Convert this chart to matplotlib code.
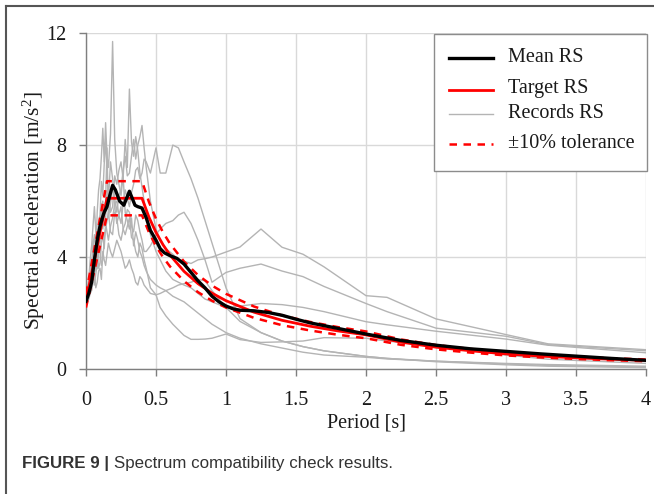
import matplotlib
matplotlib.use("Agg")
import matplotlib.pyplot as plt
from matplotlib.lines import Line2D
from matplotlib.patches import Rectangle

plt.rcParams['font.family'] = ['Liberation Serif', 'DejaVu Serif']
plt.rcParams['mathtext.fontset'] = 'custom'
plt.rcParams['mathtext.rm'] = 'Liberation Serif'
plt.rcParams['mathtext.it'] = 'Liberation Serif:italic'

# ---- data ----
# target spectrum
t_target = [0, 0.15, 0.40, 0.45, 0.50, 0.55, 0.60, 0.70, 0.80, 0.90, 1.00, 1.20,
            1.40, 1.60, 1.80, 2.00, 2.25, 2.50, 2.75, 3.00, 3.25, 3.50, 3.75, 4.00]
sa_target = [2.44, 6.1, 6.1, 5.42, 4.88, 4.44, 4.07, 3.49, 3.05, 2.71, 2.44, 2.03,
             1.74, 1.53, 1.36, 1.22, 0.96, 0.78, 0.65, 0.54, 0.46, 0.40, 0.35, 0.31]

# mean of the records
t_mean = [0, 0.02, 0.04, 0.06, 0.08, 0.10, 0.12, 0.13, 0.15, 0.17, 0.19, 0.21, 0.24,
          0.27, 0.29, 0.31, 0.33, 0.35, 0.37, 0.40, 0.43, 0.46, 0.50, 0.53, 0.56,
          0.60, 0.65, 0.70, 0.75, 0.80, 0.85, 0.90, 0.95, 1.00, 1.05, 1.10, 1.20,
          1.30, 1.40, 1.50, 1.60, 1.80, 2.00, 2.25, 2.50, 2.75, 3.00, 3.25, 3.50,
          3.75, 4.00]
sa_mean = [2.42, 2.7, 3.1, 3.9, 4.6, 5.1, 5.45, 5.6, 5.8, 6.2, 6.56, 6.4, 6.0,
           5.85, 6.1, 6.35, 6.1, 5.85, 5.8, 5.75, 5.4, 4.95, 4.6, 4.3, 4.15,
           4.05, 3.95, 3.75, 3.45, 3.15, 2.9, 2.6, 2.4, 2.25, 2.15, 2.1, 2.08,
           2.02, 1.92, 1.78, 1.65, 1.45, 1.25, 1.02, 0.85, 0.72, 0.63, 0.54, 0.46,
           0.38, 0.31]

# individual records, all on the same period grid
t_rec = [0, 0.02, 0.03, 0.04, 0.05, 0.06, 0.07, 0.08, 0.09, 0.10, 0.11, 0.12, 0.13,
         0.14, 0.15, 0.16, 0.175, 0.19, 0.205, 0.22, 0.235, 0.25, 0.265, 0.28,
         0.295, 0.31, 0.325, 0.34, 0.355, 0.37, 0.385, 0.40, 0.415, 0.43, 0.46,
         0.50, 0.53, 0.57, 0.62, 0.66, 0.70, 0.75, 0.80, 0.85, 0.90, 1.00, 1.10,
         1.25, 1.40, 1.55, 1.70, 2.00, 2.15, 2.50, 3.00, 3.30, 4.00]
rec1 = [2.5, 2.8, 3.6, 3.1, 4.4, 4.8, 4.1, 5.6, 6.4, 6.8, 7.6, 8.6, 7.4, 8.8, 7.6,
        7.2, 8.4, 11.7, 8.2, 7.0, 6.6, 6.2, 6.9, 5.6, 5.3, 5.0, 5.4, 4.4, 4.9, 4.6,
        4.2, 4.0, 3.7, 3.5, 3.2, 3.0, 2.9, 2.8, 2.6, 2.5, 2.4, 2.2, 2.0, 1.8, 1.6,
        1.3, 1.1, 0.9, 0.75, 0.6, 0.5, 0.42, 0.36, 0.28, 0.2, 0.16, 0.1]
rec2 = [2.4, 2.8, 3.5, 3.9, 3.2, 3.4, 4.1, 4.6, 4.0, 5.2, 5.8, 6.0, 5.1, 5.4, 6.3,
        6.4, 5.6, 5.8, 6.9, 6.6, 7.1, 7.4, 6.8, 8.2, 7.2, 10.0, 8.1, 7.6, 8.3, 7.8,
        7.0, 6.5, 6.0, 5.6, 4.8, 4.2, 3.9, 3.5, 3.2, 3.1, 3.0, 2.9, 2.7, 2.5, 2.4,
        2.2, 2.25, 2.34, 2.3, 2.2, 2.05, 1.69, 1.58, 1.35, 1.07, 0.85, 0.58]
rec3 = [2.6, 3.2, 3.9, 4.4, 5.1, 5.8, 4.9, 4.6, 5.3, 5.5, 6.7, 6.2, 7.3, 8.2, 7.1,
        6.0, 7.4, 6.8, 6.1, 5.6, 6.2, 6.4, 7.1, 7.6, 6.9, 7.0, 7.6, 8.2, 7.5, 8.0,
        8.3, 8.7, 7.9, 7.2, 6.0, 5.0, 4.6, 4.3, 4.1, 3.9, 3.85, 3.77, 3.9, 3.94,
        4.0, 4.18, 4.36, 5.0, 4.35, 4.1, 3.65, 2.62, 2.56, 1.79, 1.23, 0.9, 0.69]
rec4 = [2.3, 2.6, 2.9, 3.0, 3.4, 3.5, 3.9, 4.2, 3.6, 3.8, 4.5, 4.8, 4.3, 5.2, 4.9,
        4.6, 5.1, 5.4, 5.9, 6.0, 5.5, 5.2, 5.9, 6.4, 6.1, 5.8, 6.3, 6.6, 7.1, 7.2,
        6.8, 7.0, 7.5, 7.4, 7.0, 7.9, 7.0, 7.0, 8.0, 7.9, 7.4, 6.8, 6.1, 5.3, 4.5,
        2.9, 1.8, 1.3, 1.0, 0.8, 0.65, 0.45, 0.38, 0.28, 0.18, 0.13, 0.07]
rec5 = [2.4, 2.7, 2.9, 3.2, 3.6, 3.0, 3.4, 3.8, 4.3, 4.4, 3.7, 3.9, 4.6, 5.0, 5.3,
        5.6, 4.9, 4.8, 5.6, 5.4, 4.8, 4.6, 5.0, 5.2, 5.7, 5.6, 5.1, 4.9, 5.5, 5.3,
        4.9, 4.6, 4.2, 4.2, 4.4, 4.8, 5.0, 5.2, 5.3, 5.5, 5.6, 5.2, 4.6, 3.9, 3.1,
        3.45, 3.6, 3.75, 3.5, 3.3, 2.95, 2.34, 2.05, 1.46, 1.17, 0.87, 0.65]
rec6 = [2.3, 2.5, 2.7, 2.8, 3.1, 3.4, 2.9, 3.1, 3.5, 3.6, 3.2, 4.2, 3.9, 3.7, 4.1,
        4.5, 4.2, 4.0, 4.3, 4.6, 4.4, 4.2, 3.9, 3.6, 3.7, 3.9, 3.6, 3.4, 3.1, 3.0,
        3.3, 3.2, 3.0, 2.9, 2.7, 2.65, 2.2, 1.9, 1.6, 1.4, 1.2, 1.06, 1.06, 1.07,
        1.1, 1.25, 1.05, 0.95, 0.97, 1.0, 1.12, 1.1, 1.0, 0.82, 0.5, 0.35, 0.2]
rec7 = [2.4, 2.7, 3.1, 3.4, 4.6, 4.0, 3.5, 3.6, 4.9, 4.4, 5.9, 5.0, 5.6, 6.0, 7.9,
        5.4, 5.9, 6.6, 5.8, 5.2, 5.5, 5.8, 5.0, 4.8, 5.1, 5.4, 4.7, 4.6, 4.2, 4.0,
        4.5, 4.3, 3.9, 3.6, 2.9, 2.65, 2.7, 2.8, 2.9, 3.0, 3.05, 3.1, 3.2, 3.15,
        2.8, 2.2, 1.7, 1.3, 1.0, 0.8, 0.65, 0.45, 0.38, 0.26, 0.15, 0.1, 0.05]
records = [rec1, rec2, rec3, rec4, rec5, rec6, rec7]

x_ticks = [0, 0.5, 1, 1.5, 2, 2.5, 3, 3.5, 4]
x_labels = ['0', '0.5', '1', '1.5', '2', '2.5', '3', '3.5', '4']
y_ticks = [0, 4, 8, 12]
legend_labels = ['Mean RS', 'Target RS', 'Records RS', '\u00b110% tolerance']

upper = [v * 1.1 for v in sa_target]
lower = [v * 0.9 for v in sa_target]

W, H = 654, 494
fs = 14.5
dash = (0, (3.0, 2.6))
text_col = '#1a1a1a'


def px(x, y):
    # pixel position (from top-left) -> figure fraction
    return x / W, 1 - y / H


fig = plt.figure(figsize=(W / 100, H / 100), dpi=100)
ax = fig.add_axes([0.1315, 0.253, 0.8563, 0.680])

for r in records:
    ax.plot(t_rec, r, color='#b4b4b4', lw=1.0, zorder=2)
ax.plot(t_target, upper, color='red', lw=1.8, ls=dash, zorder=3)
ax.plot(t_target, lower, color='red', lw=1.8, ls=dash, zorder=3)
ax.plot(t_target, sa_target, color='red', lw=2.0, zorder=4)
ax.plot(t_mean, sa_mean, color='black', lw=2.4, zorder=5)

ax.set_xlim(0, 4)
ax.set_ylim(0, 12)
ax.set_xticks(x_ticks)
ax.set_xticklabels(x_labels)
ax.set_yticks(y_ticks)
ax.grid(True, color='#d9d9d9', lw=1.0, zorder=0)
ax.set_axisbelow(True)
for s in ['top', 'right']:
    ax.spines[s].set_visible(False)
for s in ['left', 'bottom']:
    ax.spines[s].set_color('#7f7f7f')
    ax.spines[s].set_linewidth(1.0)
ax.tick_params(axis='both', direction='out', length=5, width=1.0,
               color='#7f7f7f', labelsize=fs, labelcolor=text_col)
ax.tick_params(axis='x', pad=11)
ax.tick_params(axis='y', pad=9)
ax.set_xlabel('Period [s]', fontsize=fs, color=text_col, labelpad=2)
ax.set_ylabel('Spectral acceleration [m/s$^2$]', fontsize=15.5, color=text_col)
ax.yaxis.set_label_coords(-0.070, 0.473)

# legend box drawn by hand to keep Excel's uneven row spacing
fig.add_artist(Rectangle(px(434, 171), 213 / W, 137 / H, transform=fig.transFigure,
                         facecolor='white', edgecolor='#8c8c8c', lw=1.0,
                         zorder=10))
legend_styles = [dict(color='black', lw=2.4), dict(color='red', lw=2.0),
                 dict(color='#b4b4b4', lw=1.0), dict(color='red', lw=1.8, ls=dash)]
legend_rows = [57, 89, 113, 143]
for lab, st, yy in zip(legend_labels, legend_styles, legend_rows):
    x0, y0 = px(449, yy + 1)
    x1, _ = px(493, yy + 1)
    fig.add_artist(Line2D([x0, x1], [y0, y0], transform=fig.transFigure,
                          zorder=11, **st))
    tx, ty = px(508, yy)
    fig.text(tx, ty, lab, fontsize=fs, color=text_col, va='center', ha='left',
             zorder=11)

# outer panel frame (top and left edges)
fig.add_artist(Line2D([6 / W, 1.0], [1 - 6 / H, 1 - 6 / H],
                      color='#555555', lw=1.5, transform=fig.transFigure))
fig.add_artist(Line2D([6 / W, 6 / W], [0, 1 - 6 / H],
                      color='#555555', lw=1.5, transform=fig.transFigure))

# caption
cap_x, cap_y = px(22, 463)
bold = fig.text(cap_x, cap_y, 'FIGURE 9 |', fontsize=12.2, fontweight='bold',
                family='Liberation Sans', color='#333333', va='center', ha='left')
fig.canvas.draw()
bb = bold.get_window_extent()
fig.text((bb.x1 + 5) / W, cap_y, 'Spectrum compatibility check results.',
         fontsize=12.2, family='Liberation Sans', color='#333333',
         va='center', ha='left')

fig.savefig('out.png', dpi=100)
